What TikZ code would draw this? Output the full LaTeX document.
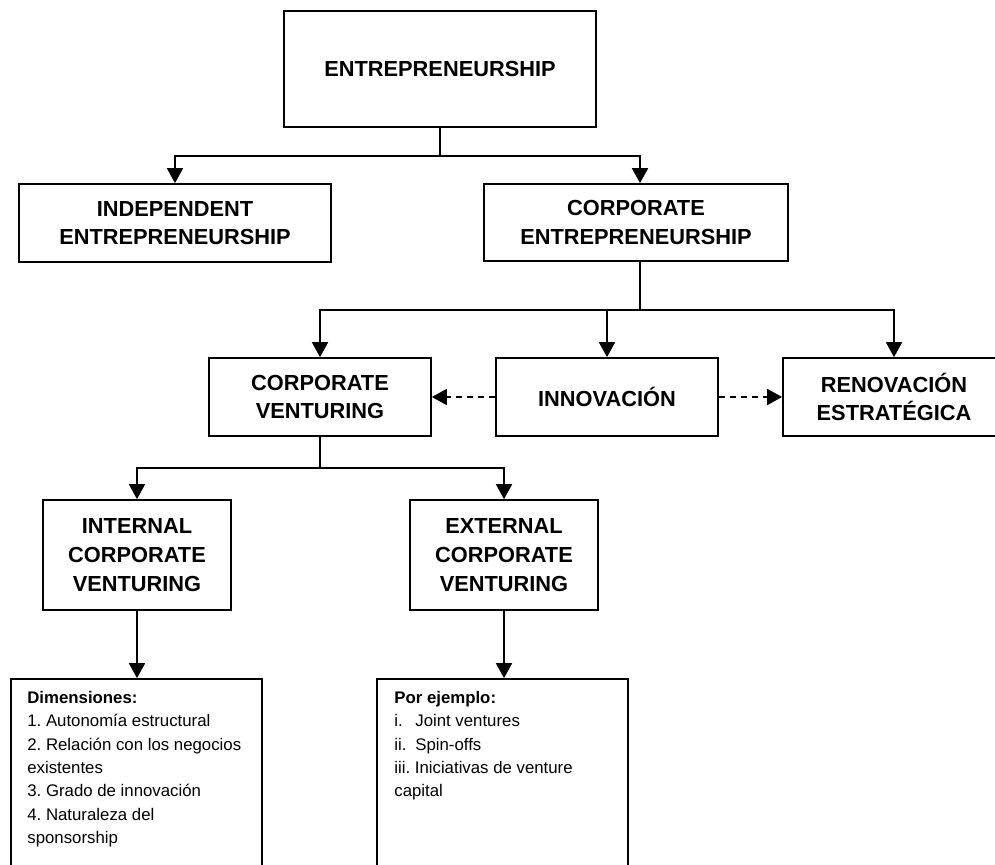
\documentclass[tikz,border=0pt]{standalone}
\usepackage{fontspec}
\setmainfont{Liberation Sans}
\usetikzlibrary{arrows.meta}
\frenchspacing
\begin{document}
\begin{tikzpicture}[x=1pt,y=-1pt,
  box/.style={draw, line width=1.7pt, inner sep=0pt, align=center,
    font=\fontsize{21.8}{28.7}\selectfont\bfseries},
  flow/.style={line width=1.8pt},
  link/.style={line width=1.8pt, -{Triangle[length=15pt,width=16pt]}},
  dashlink/.style={line width=1.8pt, dash pattern=on 6.5pt off 4.5pt,
    -{Triangle[length=15pt,width=16pt]}},
  note/.style={anchor=north west, inner sep=0pt, align=left,
    font=\fontsize{16.8}{23.3}\selectfont}]
\clip (0,0) rectangle (995,864);
\fill[white] (0,0) rectangle (995,864);

% hierarchy boxes
\node[box, minimum width=312pt, minimum height=116pt] (ent) at (440,69) {ENTREPRENEURSHIP};
\node[box, minimum width=312pt, minimum height=78pt] (ind) at (175,223) {INDEPENDENT\\ENTREPRENEURSHIP};
\node[box, minimum width=304pt, minimum height=77pt] (ce) at (636,222.5) {CORPORATE\\ENTREPRENEURSHIP};
\node[box, minimum width=222pt, minimum height=78pt] (cv) at (320,397) {CORPORATE\\VENTURING};
\node[box, minimum width=222pt, minimum height=78pt] (inn) at (607,397) {INNOVACIÓN};
\node[box, minimum width=222pt, minimum height=78pt] (ren) at (894,397) {RENOVACIÓN\\ESTRATÉGICA};
\node[box, minimum width=188pt, minimum height=110pt] (icv) at (137,555) {INTERNAL\\CORPORATE\\VENTURING};
\node[box, minimum width=188pt, minimum height=110pt] (ecv) at (504,555) {EXTERNAL\\CORPORATE\\VENTURING};

% open-ended detail boxes
\node[draw, line width=1.7pt, inner sep=0pt, minimum width=251pt, minimum height=221pt] (dim) at (136.5,789.5) {};
\node[draw, line width=1.7pt, inner sep=0pt, minimum width=251pt, minimum height=221pt] (ex) at (502.5,789.5) {};

\node[note] (dimtxt) at ([shift={(17,13)}]dim.north west)
  {\textbf{Dimensiones:}\\1. Autonomía estructural\\2. Relación con los negocios\\existentes\\3. Grado de innovación\\4. Naturaleza del\\sponsorship};
\node[note] (extxt) at ([shift={(18,13)}]ex.north west)
  {\textbf{Por ejemplo:}\\\makebox[21pt][l]{i.}Joint ventures\\\makebox[21pt][l]{ii.}Spin-offs\\iii. Iniciativas de venture\\capital};

% tree connectors
\draw[flow] (ent.south) -- ++(0,28) coordinate (entJ);
\draw[link] (entJ) -| (ind.north);
\draw[link] (entJ) -| ([xshift=4pt]ce.north);

\draw[flow] ([xshift=4pt]ce.south) -- ++(0,48.5) coordinate (ceJ);
\draw[link] (ceJ) -| (cv.north);
\draw[link] (ceJ) -| (inn.north);
\draw[link] (ceJ) -| (ren.north);

\draw[flow] (cv.south) -- ++(0,31.5) coordinate (cvJ);
\draw[link] (cvJ) -| (icv.north);
\draw[link] (cvJ) -| (ecv.north);

\draw[link] (icv.south) -- (icv.south |- dim.north);
\draw[link] (ecv.south) -- (ecv.south |- ex.north);

% dashed relations
\draw[dashlink] (inn.west) -- (cv.east);
\draw[dashlink] (inn.east) -- (ren.west);
\end{tikzpicture}
\end{document}
